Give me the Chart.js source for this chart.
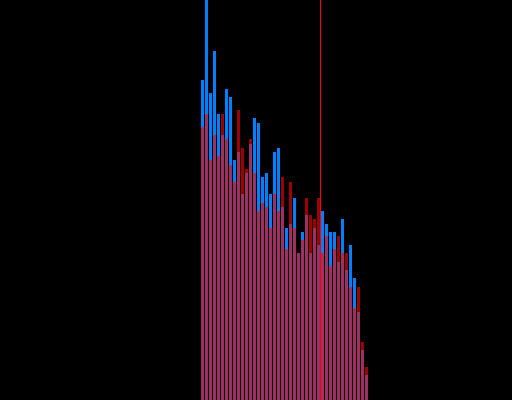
<!DOCTYPE html>
<html>
<head>
<meta charset="utf-8">
<script src="https://cdn.jsdelivr.net/npm/chart.js@4/dist/chart.umd.min.js"></script>
<style>
  html, body { margin: 0; padding: 0; background: #000; }
  #c { display: block; }
</style>
</head>
<body>
<canvas id="c" width="512" height="400"></canvas>
<script>
// ---- data ----
const firstBin = 50;           // x value of the first bar
const blueValues = [320, 405, 307, 349, 286, 265, 311, 303, 240, 248, 206,
                    227, 256, 282, 277, 223, 227, 206, 248, 252, 193, 172,
                    176, 202, 147, 168, 185, 147, 172, 155, 189, 176, 168,
                    168, 138, 181, 130, 155, 122, 88, 50, 25];
const redValues  = [273, 286, 240, 265, 244, 286, 261, 235, 218, 290, 252,
                    231, 261, 227, 189, 197, 193, 172, 206, 189, 223, 151,
                    218, 172, 147, 160, 202, 185, 181, 202, 147, 164, 134,
                    151, 164, 147, 147, 113, 92, 113, 58, 33];
const markerBin = 79.5;        // vertical marker (between two bins)
const xMin = -0.625, xMax = 127.375;
const yMax = 400;

function points(values) {
  return values.map((v, i) => ({ x: firstBin + i, y: v }));
}

const markerPlugin = {
  id: 'marker',
  afterDatasetsDraw(chart) {
    const x = chart.scales.x.getPixelForValue(markerBin);
    const ctx = chart.ctx;
    ctx.save();
    ctx.strokeStyle = '#ff0000';
    ctx.lineWidth = 1;
    ctx.beginPath();
    ctx.moveTo(x, 0);
    ctx.lineTo(x, chart.height);
    ctx.stroke();
    ctx.restore();
  }
};

const bgPlugin = {
  id: 'bg',
  beforeDraw(chart) {
    const ctx = chart.ctx;
    ctx.save();
    ctx.fillStyle = '#000';
    ctx.fillRect(0, 0, chart.width, chart.height);
    ctx.restore();
  }
};

new Chart(document.getElementById('c'), {
  type: 'bar',
  data: {
    datasets: [
      { label: 'red', data: points(redValues), backgroundColor: 'rgba(255,0,0,0.62)', order: 0 },
      { label: 'blue', data: points(blueValues), backgroundColor: 'rgb(0,128,255)', order: 1 }
    ]
  },
  options: {
    responsive: false,
    animation: false,
    events: [],
    devicePixelRatio: 1,
    layout: { padding: 0 },
    datasets: {
      bar: { grouped: false, barThickness: 3, borderWidth: 0, inflateAmount: 0 }
    },
    plugins: {
      legend: { display: false },
      tooltip: { enabled: false }
    },
    scales: {
      x: { type: 'linear', display: false, min: xMin, max: xMax, offset: false },
      y: { display: false, min: 0, max: yMax }
    }
  },
  plugins: [bgPlugin, markerPlugin]
});
</script>
</body>
</html>
